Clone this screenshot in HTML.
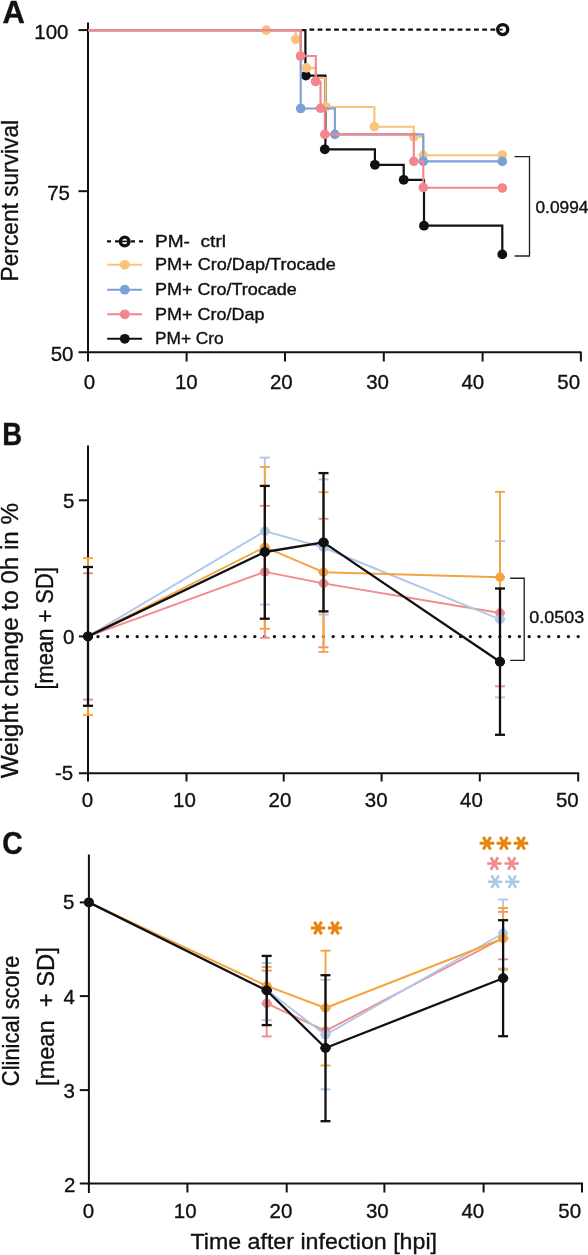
<!DOCTYPE html>
<html><head><meta charset="utf-8"><style>
html,body{margin:0;padding:0;background:#fff;width:588px;height:1255px;overflow:hidden;}
svg{display:block;font-family:"Liberation Sans", sans-serif;will-change:transform;}
text{stroke:#111;stroke-width:0.35px;}
</style></head><body>
<svg width="588" height="1255" viewBox="0 0 588 1255">
<text x="2.5" y="22.6" font-size="31" font-weight="bold" fill="#111" text-anchor="start" >A</text>
<text x="2.2" y="445" font-size="31" font-weight="bold" fill="#111" text-anchor="start" textLength="19.9" lengthAdjust="spacingAndGlyphs" >B</text>
<text x="2.2" y="854" font-size="31" font-weight="bold" fill="#111" text-anchor="start" textLength="20.5" lengthAdjust="spacingAndGlyphs" >C</text>
<line x1="88" y1="22.6" x2="88" y2="361.5" stroke="#111" stroke-width="2" />
<line x1="78.5" y1="352.2" x2="581.5" y2="352.2" stroke="#111" stroke-width="2" />
<line x1="78.5" y1="30.1" x2="88" y2="30.1" stroke="#111" stroke-width="2" />
<line x1="78.5" y1="191.2" x2="88" y2="191.2" stroke="#111" stroke-width="2" />
<line x1="186.6" y1="352.2" x2="186.6" y2="361.5" stroke="#111" stroke-width="2" />
<line x1="285" y1="352.2" x2="285" y2="361.5" stroke="#111" stroke-width="2" />
<line x1="383.8" y1="352.2" x2="383.8" y2="361.5" stroke="#111" stroke-width="2" />
<line x1="482.6" y1="352.2" x2="482.6" y2="361.5" stroke="#111" stroke-width="2" />
<line x1="580.9" y1="352.2" x2="580.9" y2="361.5" stroke="#111" stroke-width="2" />
<text x="68.5" y="38.6" font-size="21.0" font-weight="normal" fill="#111" text-anchor="end" textLength="34.19" lengthAdjust="spacingAndGlyphs" >100</text>
<text x="70" y="200" font-size="21.0" font-weight="normal" fill="#111" text-anchor="end" textLength="22.8" lengthAdjust="spacingAndGlyphs" >75</text>
<text x="73.5" y="361" font-size="21.0" font-weight="normal" fill="#111" text-anchor="end" textLength="22.8" lengthAdjust="spacingAndGlyphs" >50</text>
<text x="89.4" y="389.3" font-size="21.0" font-weight="normal" fill="#111" text-anchor="middle" textLength="11.4" lengthAdjust="spacingAndGlyphs" >0</text>
<text x="186.3" y="389.3" font-size="21.0" font-weight="normal" fill="#111" text-anchor="middle" textLength="22.8" lengthAdjust="spacingAndGlyphs" >10</text>
<text x="281.3" y="389.3" font-size="21.0" font-weight="normal" fill="#111" text-anchor="middle" textLength="22.8" lengthAdjust="spacingAndGlyphs" >20</text>
<text x="377.6" y="389.3" font-size="21.0" font-weight="normal" fill="#111" text-anchor="middle" textLength="22.8" lengthAdjust="spacingAndGlyphs" >30</text>
<text x="472.8" y="389.3" font-size="21.0" font-weight="normal" fill="#111" text-anchor="middle" textLength="22.8" lengthAdjust="spacingAndGlyphs" >40</text>
<text x="568.7" y="389.3" font-size="21.0" font-weight="normal" fill="#111" text-anchor="middle" textLength="22.8" lengthAdjust="spacingAndGlyphs" >50</text>
<text x="18.0" y="281.4" font-size="24" font-weight="normal" fill="#111" text-anchor="start" textLength="161.5" lengthAdjust="spacingAndGlyphs" transform="rotate(-90 18.0 281.4)" >Percent survival</text>
<path d="M88,30.1 H305.4 V75.6 H325.4 V149.3 H374.9 V164.8 H403.7 V179.8 H424 V225.7 H502.3 V254.4" fill="none" stroke="#111" stroke-width="2.2" />
<circle cx="305.9" cy="75.6" r="4.9" fill="#111"/>
<circle cx="324.8" cy="149.3" r="4.9" fill="#111"/>
<circle cx="374.9" cy="164.8" r="4.9" fill="#111"/>
<circle cx="403.7" cy="179.8" r="4.9" fill="#111"/>
<circle cx="424" cy="225.7" r="4.9" fill="#111"/>
<circle cx="502.3" cy="254.4" r="4.9" fill="#111"/>
<path d="M309.4,29.6 H502.5" fill="none" stroke="#111" stroke-width="2.3" stroke-dasharray="4.8 3.43"/>
<circle cx="502.7" cy="29.6" r="5" fill="#fff" stroke="#111" stroke-width="3.4"/>
<line x1="499.5" y1="29.6" x2="502.7" y2="29.6" stroke="#111" stroke-width="1.8" />
<path d="M88,30.1 H295.8 V39.3 H300.7 V67.9 H315.8 V78 H325.4 V107 H374.4 V126.7 H413.8 V136.8 H423.3 V155.3 H502.3" fill="none" stroke="#FAC37A" stroke-width="2.1" />
<circle cx="266.2" cy="30.1" r="4.8" fill="#FAC37A"/>
<circle cx="295.6" cy="39.3" r="4.8" fill="#FAC37A"/>
<circle cx="306.5" cy="67.9" r="4.8" fill="#FAC37A"/>
<circle cx="326" cy="106.7" r="4.8" fill="#FAC37A"/>
<circle cx="374.4" cy="126.7" r="4.8" fill="#FAC37A"/>
<circle cx="413.8" cy="136.8" r="4.8" fill="#FAC37A"/>
<circle cx="423.3" cy="155.3" r="4.8" fill="#FAC37A"/>
<circle cx="502.3" cy="155" r="4.8" fill="#FAC37A"/>
<path d="M88,30.1 H300.7 V108.5 H334.9 V134.4 H423.3 V161.4 H502.3" fill="none" stroke="#7AA0DA" stroke-width="2.1" />
<circle cx="300.7" cy="108.5" r="4.8" fill="#7AA0DA"/>
<circle cx="334.9" cy="134.4" r="4.8" fill="#7AA0DA"/>
<circle cx="423.3" cy="161.4" r="4.8" fill="#7AA0DA"/>
<circle cx="502.3" cy="161.4" r="4.8" fill="#7AA0DA"/>
<path d="M88,30.1 H300.7 V56 H315.8 V81.5 H320.5 V108.3 H324.8 V134.4 H413.8 V161.3 H423.3 V187.7 H502.3" fill="none" stroke="#F3858B" stroke-width="2.1" />
<circle cx="300.5" cy="56" r="4.8" fill="#F3858B"/>
<circle cx="315.6" cy="81.5" r="4.8" fill="#F3858B"/>
<circle cx="320.5" cy="108.3" r="4.8" fill="#F3858B"/>
<circle cx="324.8" cy="134.4" r="4.8" fill="#F3858B"/>
<circle cx="413.8" cy="161.3" r="4.8" fill="#F3858B"/>
<circle cx="423.3" cy="187.5" r="4.8" fill="#F3858B"/>
<circle cx="502.3" cy="188" r="4.8" fill="#F3858B"/>
<path d="M514.5,156.6 H529.5 V256 H514.5" fill="none" stroke="#222" stroke-width="1.35" />
<text x="535.5" y="212.9" font-size="17.3" font-weight="normal" fill="#111" text-anchor="start" >0.0994</text>
<path d="M107,241.4 H143" fill="none" stroke="#111" stroke-width="2.3" stroke-dasharray="4 4"/>
<circle cx="124.7" cy="241.4" r="4.3" fill="#fff" stroke="#111" stroke-width="3.4"/>
<line x1="122" y1="241.4" x2="128" y2="241.4" stroke="#111" stroke-width="1.6" />
<line x1="107.2" y1="264.8" x2="142.1" y2="264.8" stroke="#FAC37A" stroke-width="2.0" />
<circle cx="124.8" cy="264.8" r="4.9" fill="#FAC37A"/>
<line x1="107.2" y1="289.7" x2="142.1" y2="289.7" stroke="#7AA0DA" stroke-width="2.0" />
<circle cx="124.8" cy="289.7" r="4.9" fill="#7AA0DA"/>
<line x1="107.2" y1="314.3" x2="142.1" y2="314.3" stroke="#F3858B" stroke-width="2.0" />
<circle cx="124.8" cy="314.3" r="4.9" fill="#F3858B"/>
<line x1="107.2" y1="338.8" x2="142.1" y2="338.8" stroke="#111" stroke-width="2.0" />
<circle cx="124.8" cy="338.8" r="4.9" fill="#111"/>
<text x="155" y="247" font-size="15.6" font-weight="normal" fill="#111" text-anchor="start" textLength="71" lengthAdjust="spacingAndGlyphs" >PM-&#160; ctrl</text>
<text x="155" y="270.1" font-size="15.6" font-weight="normal" fill="#111" text-anchor="start" textLength="180.7" lengthAdjust="spacingAndGlyphs" >PM+ Cro/Dap/Trocade</text>
<text x="155" y="295" font-size="15.6" font-weight="normal" fill="#111" text-anchor="start" textLength="141.7" lengthAdjust="spacingAndGlyphs" >PM+ Cro/Trocade</text>
<text x="155" y="320.4" font-size="15.6" font-weight="normal" fill="#111" text-anchor="start" textLength="109.4" lengthAdjust="spacingAndGlyphs" >PM+ Cro/Dap</text>
<text x="155" y="343.9" font-size="15.6" font-weight="normal" fill="#111" text-anchor="start" textLength="68.7" lengthAdjust="spacingAndGlyphs" >PM+ Cro</text>
<line x1="88" y1="445.4" x2="88" y2="781.5" stroke="#111" stroke-width="2" />
<line x1="78.9" y1="773.2" x2="579.2" y2="773.2" stroke="#111" stroke-width="2" />
<line x1="78.9" y1="500.3" x2="88" y2="500.3" stroke="#111" stroke-width="2" />
<line x1="78.9" y1="636.4" x2="88" y2="636.4" stroke="#111" stroke-width="2" />
<line x1="186.5" y1="773.2" x2="186.5" y2="781.5" stroke="#111" stroke-width="2" />
<line x1="283.7" y1="773.2" x2="283.7" y2="781.5" stroke="#111" stroke-width="2" />
<line x1="381.6" y1="773.2" x2="381.6" y2="781.5" stroke="#111" stroke-width="2" />
<line x1="479.8" y1="773.2" x2="479.8" y2="781.5" stroke="#111" stroke-width="2" />
<line x1="578.2" y1="773.2" x2="578.2" y2="781.5" stroke="#111" stroke-width="2" />
<text x="74.3" y="507.9" font-size="21.0" font-weight="normal" fill="#111" text-anchor="end" textLength="11.4" lengthAdjust="spacingAndGlyphs" >5</text>
<text x="74.3" y="643.6" font-size="21.0" font-weight="normal" fill="#111" text-anchor="end" textLength="11.4" lengthAdjust="spacingAndGlyphs" >0</text>
<text x="73.2" y="780.1" font-size="21.0" font-weight="normal" fill="#111" text-anchor="end" textLength="18.22" lengthAdjust="spacingAndGlyphs" >-5</text>
<text x="87.5" y="807.1" font-size="21.0" font-weight="normal" fill="#111" text-anchor="middle" textLength="11.4" lengthAdjust="spacingAndGlyphs" >0</text>
<text x="184.5" y="807.1" font-size="21.0" font-weight="normal" fill="#111" text-anchor="middle" textLength="22.8" lengthAdjust="spacingAndGlyphs" >10</text>
<text x="280" y="807.1" font-size="21.0" font-weight="normal" fill="#111" text-anchor="middle" textLength="22.8" lengthAdjust="spacingAndGlyphs" >20</text>
<text x="376.2" y="807.1" font-size="21.0" font-weight="normal" fill="#111" text-anchor="middle" textLength="22.8" lengthAdjust="spacingAndGlyphs" >30</text>
<text x="471.5" y="807.1" font-size="21.0" font-weight="normal" fill="#111" text-anchor="middle" textLength="22.8" lengthAdjust="spacingAndGlyphs" >40</text>
<text x="567.3" y="807.1" font-size="21.0" font-weight="normal" fill="#111" text-anchor="middle" textLength="22.8" lengthAdjust="spacingAndGlyphs" >50</text>
<text x="17.9" y="778.3" font-size="23.5" font-weight="normal" fill="#111" text-anchor="start" textLength="275.4" lengthAdjust="spacingAndGlyphs" transform="rotate(-90 17.9 778.3)" >Weight change to 0h in %</text>
<text x="52.6" y="689.6" font-size="23.3" font-weight="normal" fill="#111" text-anchor="start" textLength="122.5" lengthAdjust="spacingAndGlyphs" transform="rotate(-90 52.6 689.6)" >[mean + SD]</text>
<path d="M98,636.6 H583" fill="none" stroke="#111" stroke-width="3.4" stroke-dasharray="0 9.8" stroke-linecap="round"/>
<line x1="88" y1="573.2" x2="88" y2="636.4" stroke="#F08A8C" stroke-width="1.9" />
<line x1="83.0" y1="573.2" x2="93.0" y2="573.2" stroke="#F08A8C" stroke-width="1.9" />
<line x1="83.0" y1="636.4" x2="93.0" y2="636.4" stroke="#F08A8C" stroke-width="1.9" />
<line x1="88" y1="636.4" x2="88" y2="699.6" stroke="#F08A8C" stroke-width="1.9" />
<line x1="83.0" y1="636.4" x2="93.0" y2="636.4" stroke="#F08A8C" stroke-width="1.9" />
<line x1="83.0" y1="699.6" x2="93.0" y2="699.6" stroke="#F08A8C" stroke-width="1.9" />
<line x1="264.8" y1="505.8" x2="264.8" y2="571.9" stroke="#F08A8C" stroke-width="1.9" />
<line x1="259.8" y1="505.8" x2="269.8" y2="505.8" stroke="#F08A8C" stroke-width="1.9" />
<line x1="259.8" y1="571.9" x2="269.8" y2="571.9" stroke="#F08A8C" stroke-width="1.9" />
<line x1="264.8" y1="571.9" x2="264.8" y2="637.8" stroke="#F08A8C" stroke-width="1.9" />
<line x1="259.8" y1="571.9" x2="269.8" y2="571.9" stroke="#F08A8C" stroke-width="1.9" />
<line x1="259.8" y1="637.8" x2="269.8" y2="637.8" stroke="#F08A8C" stroke-width="1.9" />
<line x1="323.5" y1="518.8" x2="323.5" y2="583.4" stroke="#F08A8C" stroke-width="1.9" />
<line x1="318.5" y1="518.8" x2="328.5" y2="518.8" stroke="#F08A8C" stroke-width="1.9" />
<line x1="318.5" y1="583.4" x2="328.5" y2="583.4" stroke="#F08A8C" stroke-width="1.9" />
<line x1="323.5" y1="583.4" x2="323.5" y2="647.3" stroke="#F08A8C" stroke-width="1.9" />
<line x1="318.5" y1="583.4" x2="328.5" y2="583.4" stroke="#F08A8C" stroke-width="1.9" />
<line x1="318.5" y1="647.3" x2="328.5" y2="647.3" stroke="#F08A8C" stroke-width="1.9" />
<line x1="500" y1="613.0" x2="500" y2="686.3" stroke="#F08A8C" stroke-width="1.9" />
<line x1="495.0" y1="613.0" x2="505.0" y2="613.0" stroke="#F08A8C" stroke-width="1.9" />
<line x1="495.0" y1="686.3" x2="505.0" y2="686.3" stroke="#F08A8C" stroke-width="1.9" />
<polyline points="88,636.4 264.8,571.9 323.5,583.4 500,613.0" fill="none" stroke="#F08A8C" stroke-width="1.9" stroke-linejoin="round"/>
<circle cx="88" cy="636.4" r="4.7" fill="#F08A8C"/>
<circle cx="264.8" cy="571.9" r="4.7" fill="#F08A8C"/>
<circle cx="323.5" cy="583.4" r="4.7" fill="#F08A8C"/>
<circle cx="500" cy="613.0" r="4.7" fill="#F08A8C"/>
<line x1="264.8" y1="457.6" x2="264.8" y2="531.1" stroke="#AEC8EB" stroke-width="1.9" />
<line x1="259.8" y1="457.6" x2="269.8" y2="457.6" stroke="#AEC8EB" stroke-width="1.9" />
<line x1="259.8" y1="531.1" x2="269.8" y2="531.1" stroke="#AEC8EB" stroke-width="1.9" />
<line x1="264.8" y1="531.1" x2="264.8" y2="604.6" stroke="#AEC8EB" stroke-width="1.9" />
<line x1="259.8" y1="531.1" x2="269.8" y2="531.1" stroke="#AEC8EB" stroke-width="1.9" />
<line x1="259.8" y1="604.6" x2="269.8" y2="604.6" stroke="#AEC8EB" stroke-width="1.9" />
<line x1="323.5" y1="479.4" x2="323.5" y2="547.5" stroke="#AEC8EB" stroke-width="1.9" />
<line x1="318.5" y1="479.4" x2="328.5" y2="479.4" stroke="#AEC8EB" stroke-width="1.9" />
<line x1="318.5" y1="547.5" x2="328.5" y2="547.5" stroke="#AEC8EB" stroke-width="1.9" />
<line x1="323.5" y1="547.5" x2="323.5" y2="614.6" stroke="#AEC8EB" stroke-width="1.9" />
<line x1="318.5" y1="547.5" x2="328.5" y2="547.5" stroke="#AEC8EB" stroke-width="1.9" />
<line x1="318.5" y1="614.6" x2="328.5" y2="614.6" stroke="#AEC8EB" stroke-width="1.9" />
<line x1="500" y1="541.1" x2="500" y2="619.4" stroke="#AEC8EB" stroke-width="1.9" />
<line x1="495.0" y1="541.1" x2="505.0" y2="541.1" stroke="#AEC8EB" stroke-width="1.9" />
<line x1="495.0" y1="619.4" x2="505.0" y2="619.4" stroke="#AEC8EB" stroke-width="1.9" />
<line x1="500" y1="619.4" x2="500" y2="697.4" stroke="#AEC8EB" stroke-width="1.9" />
<line x1="495.0" y1="619.4" x2="505.0" y2="619.4" stroke="#AEC8EB" stroke-width="1.9" />
<line x1="495.0" y1="697.4" x2="505.0" y2="697.4" stroke="#AEC8EB" stroke-width="1.9" />
<polyline points="88,636.4 264.8,531.1 323.5,547.5 500,619.4" fill="none" stroke="#AEC8EB" stroke-width="1.9" stroke-linejoin="round"/>
<circle cx="88" cy="636.4" r="4.7" fill="#AEC8EB"/>
<circle cx="264.8" cy="531.1" r="4.7" fill="#AEC8EB"/>
<circle cx="323.5" cy="547.5" r="4.7" fill="#AEC8EB"/>
<circle cx="500" cy="619.4" r="4.7" fill="#AEC8EB"/>
<line x1="88" y1="558.2" x2="88" y2="636.4" stroke="#F3A43C" stroke-width="1.9" />
<line x1="83.0" y1="558.2" x2="93.0" y2="558.2" stroke="#F3A43C" stroke-width="1.9" />
<line x1="83.0" y1="636.4" x2="93.0" y2="636.4" stroke="#F3A43C" stroke-width="1.9" />
<line x1="88" y1="636.4" x2="88" y2="715.1" stroke="#F3A43C" stroke-width="1.9" />
<line x1="83.0" y1="636.4" x2="93.0" y2="636.4" stroke="#F3A43C" stroke-width="1.9" />
<line x1="83.0" y1="715.1" x2="93.0" y2="715.1" stroke="#F3A43C" stroke-width="1.9" />
<line x1="264.8" y1="466.9" x2="264.8" y2="547.1" stroke="#F3A43C" stroke-width="1.9" />
<line x1="259.8" y1="466.9" x2="269.8" y2="466.9" stroke="#F3A43C" stroke-width="1.9" />
<line x1="259.8" y1="547.1" x2="269.8" y2="547.1" stroke="#F3A43C" stroke-width="1.9" />
<line x1="264.8" y1="547.1" x2="264.8" y2="628.8" stroke="#F3A43C" stroke-width="1.9" />
<line x1="259.8" y1="547.1" x2="269.8" y2="547.1" stroke="#F3A43C" stroke-width="1.9" />
<line x1="259.8" y1="628.8" x2="269.8" y2="628.8" stroke="#F3A43C" stroke-width="1.9" />
<line x1="323.5" y1="492.2" x2="323.5" y2="572.2" stroke="#F3A43C" stroke-width="1.9" />
<line x1="318.5" y1="492.2" x2="328.5" y2="492.2" stroke="#F3A43C" stroke-width="1.9" />
<line x1="318.5" y1="572.2" x2="328.5" y2="572.2" stroke="#F3A43C" stroke-width="1.9" />
<line x1="323.5" y1="572.2" x2="323.5" y2="651.9" stroke="#F3A43C" stroke-width="1.9" />
<line x1="318.5" y1="572.2" x2="328.5" y2="572.2" stroke="#F3A43C" stroke-width="1.9" />
<line x1="318.5" y1="651.9" x2="328.5" y2="651.9" stroke="#F3A43C" stroke-width="1.9" />
<line x1="500" y1="491.8" x2="500" y2="577.3" stroke="#F3A43C" stroke-width="1.9" />
<line x1="495.0" y1="491.8" x2="505.0" y2="491.8" stroke="#F3A43C" stroke-width="1.9" />
<line x1="495.0" y1="577.3" x2="505.0" y2="577.3" stroke="#F3A43C" stroke-width="1.9" />
<line x1="500" y1="577.3" x2="500" y2="662.8" stroke="#F3A43C" stroke-width="1.9" />
<line x1="495.0" y1="577.3" x2="505.0" y2="577.3" stroke="#F3A43C" stroke-width="1.9" />
<line x1="495.0" y1="662.8" x2="505.0" y2="662.8" stroke="#F3A43C" stroke-width="1.9" />
<polyline points="88,636.4 264.8,547.1 323.5,572.2 500,577.3" fill="none" stroke="#F3A43C" stroke-width="1.9" stroke-linejoin="round"/>
<circle cx="88" cy="636.4" r="4.7" fill="#F3A43C"/>
<circle cx="264.8" cy="547.1" r="4.7" fill="#F3A43C"/>
<circle cx="323.5" cy="572.2" r="4.7" fill="#F3A43C"/>
<circle cx="500" cy="577.3" r="4.7" fill="#F3A43C"/>
<line x1="88" y1="567" x2="88" y2="636.4" stroke="#111" stroke-width="2.3" />
<line x1="83.0" y1="567" x2="93.0" y2="567" stroke="#111" stroke-width="2.3" />
<line x1="83.0" y1="636.4" x2="93.0" y2="636.4" stroke="#111" stroke-width="2.3" />
<line x1="88" y1="636.4" x2="88" y2="705.8" stroke="#111" stroke-width="2.3" />
<line x1="83.0" y1="636.4" x2="93.0" y2="636.4" stroke="#111" stroke-width="2.3" />
<line x1="83.0" y1="705.8" x2="93.0" y2="705.8" stroke="#111" stroke-width="2.3" />
<line x1="264.8" y1="485.9" x2="264.8" y2="552.0" stroke="#111" stroke-width="2.3" />
<line x1="259.8" y1="485.9" x2="269.8" y2="485.9" stroke="#111" stroke-width="2.3" />
<line x1="259.8" y1="552.0" x2="269.8" y2="552.0" stroke="#111" stroke-width="2.3" />
<line x1="264.8" y1="552.0" x2="264.8" y2="618.7" stroke="#111" stroke-width="2.3" />
<line x1="259.8" y1="552.0" x2="269.8" y2="552.0" stroke="#111" stroke-width="2.3" />
<line x1="259.8" y1="618.7" x2="269.8" y2="618.7" stroke="#111" stroke-width="2.3" />
<line x1="323.5" y1="473.1" x2="323.5" y2="542.4" stroke="#111" stroke-width="2.3" />
<line x1="318.5" y1="473.1" x2="328.5" y2="473.1" stroke="#111" stroke-width="2.3" />
<line x1="318.5" y1="542.4" x2="328.5" y2="542.4" stroke="#111" stroke-width="2.3" />
<line x1="323.5" y1="542.4" x2="323.5" y2="611.4" stroke="#111" stroke-width="2.3" />
<line x1="318.5" y1="542.4" x2="328.5" y2="542.4" stroke="#111" stroke-width="2.3" />
<line x1="318.5" y1="611.4" x2="328.5" y2="611.4" stroke="#111" stroke-width="2.3" />
<line x1="500" y1="588.5" x2="500" y2="661.8" stroke="#111" stroke-width="2.3" />
<line x1="495.0" y1="588.5" x2="505.0" y2="588.5" stroke="#111" stroke-width="2.3" />
<line x1="495.0" y1="661.8" x2="505.0" y2="661.8" stroke="#111" stroke-width="2.3" />
<line x1="500" y1="661.8" x2="500" y2="734.8" stroke="#111" stroke-width="2.3" />
<line x1="495.0" y1="661.8" x2="505.0" y2="661.8" stroke="#111" stroke-width="2.3" />
<line x1="495.0" y1="734.8" x2="505.0" y2="734.8" stroke="#111" stroke-width="2.3" />
<polyline points="88,636.4 264.8,552.0 323.5,542.4 500,661.8" fill="none" stroke="#111" stroke-width="2.3" stroke-linejoin="round"/>
<circle cx="88" cy="636.4" r="5.0" fill="#111"/>
<circle cx="264.8" cy="552.0" r="5.0" fill="#111"/>
<circle cx="323.5" cy="542.4" r="5.0" fill="#111"/>
<circle cx="500" cy="661.8" r="5.0" fill="#111"/>
<path d="M510.2,578.2 H524.2 V660.4 H510.2" fill="none" stroke="#222" stroke-width="1.35" />
<text x="529.3" y="622.8" font-size="17.3" font-weight="normal" fill="#111" text-anchor="start" textLength="55" lengthAdjust="spacingAndGlyphs" >0.0503</text>
<line x1="88.9" y1="854.4" x2="88.9" y2="1193" stroke="#111" stroke-width="2" />
<line x1="79.8" y1="1183.5" x2="583" y2="1183.5" stroke="#111" stroke-width="2" />
<line x1="79.8" y1="902.4" x2="88.9" y2="902.4" stroke="#111" stroke-width="2" />
<line x1="79.8" y1="996.1" x2="88.9" y2="996.1" stroke="#111" stroke-width="2" />
<line x1="79.8" y1="1090.1" x2="88.9" y2="1090.1" stroke="#111" stroke-width="2" />
<line x1="187.4" y1="1183.5" x2="187.4" y2="1192.5" stroke="#111" stroke-width="2" />
<line x1="286.7" y1="1183.5" x2="286.7" y2="1192.5" stroke="#111" stroke-width="2" />
<line x1="384.4" y1="1183.5" x2="384.4" y2="1192.5" stroke="#111" stroke-width="2" />
<line x1="483.6" y1="1183.5" x2="483.6" y2="1192.5" stroke="#111" stroke-width="2" />
<line x1="582" y1="1183.5" x2="582" y2="1192.5" stroke="#111" stroke-width="2" />
<text x="74.5" y="909.4" font-size="21.0" font-weight="normal" fill="#111" text-anchor="end" textLength="11.4" lengthAdjust="spacingAndGlyphs" >5</text>
<text x="75" y="1003.5" font-size="21.0" font-weight="normal" fill="#111" text-anchor="end" textLength="11.4" lengthAdjust="spacingAndGlyphs" >4</text>
<text x="75" y="1097.5" font-size="21.0" font-weight="normal" fill="#111" text-anchor="end" textLength="11.4" lengthAdjust="spacingAndGlyphs" >3</text>
<text x="75.3" y="1191.5" font-size="21.0" font-weight="normal" fill="#111" text-anchor="end" textLength="11.4" lengthAdjust="spacingAndGlyphs" >2</text>
<text x="88.5" y="1218" font-size="21.0" font-weight="normal" fill="#111" text-anchor="middle" textLength="11.4" lengthAdjust="spacingAndGlyphs" >0</text>
<text x="185.2" y="1218" font-size="21.0" font-weight="normal" fill="#111" text-anchor="middle" textLength="22.8" lengthAdjust="spacingAndGlyphs" >10</text>
<text x="281" y="1218" font-size="21.0" font-weight="normal" fill="#111" text-anchor="middle" textLength="22.8" lengthAdjust="spacingAndGlyphs" >20</text>
<text x="377.3" y="1218" font-size="21.0" font-weight="normal" fill="#111" text-anchor="middle" textLength="22.8" lengthAdjust="spacingAndGlyphs" >30</text>
<text x="472.8" y="1218" font-size="21.0" font-weight="normal" fill="#111" text-anchor="middle" textLength="22.8" lengthAdjust="spacingAndGlyphs" >40</text>
<text x="569.7" y="1218" font-size="21.0" font-weight="normal" fill="#111" text-anchor="middle" textLength="22.8" lengthAdjust="spacingAndGlyphs" >50</text>
<text x="18.8" y="1086.2" font-size="24" font-weight="normal" fill="#111" text-anchor="start" textLength="130.5" lengthAdjust="spacingAndGlyphs" transform="rotate(-90 18.8 1086.2)" >Clinical score</text>
<text x="53.6" y="1086.2" font-size="23.3" font-weight="normal" fill="#111" text-anchor="start" textLength="139" lengthAdjust="spacingAndGlyphs" transform="rotate(-90 53.6 1086.2)" >[mean&#160; + SD]</text>
<text x="190.5" y="1248.8" font-size="21.7" font-weight="normal" fill="#111" text-anchor="start" textLength="246.5" lengthAdjust="spacingAndGlyphs" >Time after infection [hpi]</text>
<line x1="266.7" y1="970.6" x2="266.7" y2="1003.4" stroke="#F08A8C" stroke-width="1.9" />
<line x1="261.7" y1="970.6" x2="271.7" y2="970.6" stroke="#F08A8C" stroke-width="1.9" />
<line x1="261.7" y1="1003.4" x2="271.7" y2="1003.4" stroke="#F08A8C" stroke-width="1.9" />
<line x1="266.7" y1="1003.4" x2="266.7" y2="1036.4" stroke="#F08A8C" stroke-width="1.9" />
<line x1="261.7" y1="1003.4" x2="271.7" y2="1003.4" stroke="#F08A8C" stroke-width="1.9" />
<line x1="261.7" y1="1036.4" x2="271.7" y2="1036.4" stroke="#F08A8C" stroke-width="1.9" />
<line x1="503.1" y1="911.8" x2="503.1" y2="938.0" stroke="#F08A8C" stroke-width="1.9" />
<line x1="498.1" y1="911.8" x2="508.1" y2="911.8" stroke="#F08A8C" stroke-width="1.9" />
<line x1="498.1" y1="938.0" x2="508.1" y2="938.0" stroke="#F08A8C" stroke-width="1.9" />
<line x1="503.1" y1="938.0" x2="503.1" y2="959.3" stroke="#F08A8C" stroke-width="1.9" />
<line x1="498.1" y1="938.0" x2="508.1" y2="938.0" stroke="#F08A8C" stroke-width="1.9" />
<line x1="498.1" y1="959.3" x2="508.1" y2="959.3" stroke="#F08A8C" stroke-width="1.9" />
<polyline points="266.7,1003.4 325.5,1030.9 503.1,938.0" fill="none" stroke="#F08A8C" stroke-width="1.9" stroke-linejoin="round"/>
<circle cx="266.7" cy="1003.4" r="4.7" fill="#F08A8C"/>
<circle cx="325.5" cy="1030.9" r="4.7" fill="#F08A8C"/>
<circle cx="503.1" cy="938.0" r="4.7" fill="#F08A8C"/>
<line x1="266.7" y1="963" x2="266.7" y2="990.0" stroke="#AEC8EB" stroke-width="1.9" />
<line x1="261.7" y1="963" x2="271.7" y2="963" stroke="#AEC8EB" stroke-width="1.9" />
<line x1="261.7" y1="990.0" x2="271.7" y2="990.0" stroke="#AEC8EB" stroke-width="1.9" />
<line x1="266.7" y1="990.0" x2="266.7" y2="1020.2" stroke="#AEC8EB" stroke-width="1.9" />
<line x1="261.7" y1="990.0" x2="271.7" y2="990.0" stroke="#AEC8EB" stroke-width="1.9" />
<line x1="261.7" y1="1020.2" x2="271.7" y2="1020.2" stroke="#AEC8EB" stroke-width="1.9" />
<line x1="325.5" y1="979.8" x2="325.5" y2="1034.9" stroke="#AEC8EB" stroke-width="1.9" />
<line x1="320.5" y1="979.8" x2="330.5" y2="979.8" stroke="#AEC8EB" stroke-width="1.9" />
<line x1="320.5" y1="1034.9" x2="330.5" y2="1034.9" stroke="#AEC8EB" stroke-width="1.9" />
<line x1="325.5" y1="1034.9" x2="325.5" y2="1089.4" stroke="#AEC8EB" stroke-width="1.9" />
<line x1="320.5" y1="1034.9" x2="330.5" y2="1034.9" stroke="#AEC8EB" stroke-width="1.9" />
<line x1="320.5" y1="1089.4" x2="330.5" y2="1089.4" stroke="#AEC8EB" stroke-width="1.9" />
<line x1="503.1" y1="899.5" x2="503.1" y2="933.2" stroke="#AEC8EB" stroke-width="1.9" />
<line x1="498.1" y1="899.5" x2="508.1" y2="899.5" stroke="#AEC8EB" stroke-width="1.9" />
<line x1="498.1" y1="933.2" x2="508.1" y2="933.2" stroke="#AEC8EB" stroke-width="1.9" />
<line x1="503.1" y1="933.2" x2="503.1" y2="968.6" stroke="#AEC8EB" stroke-width="1.9" />
<line x1="498.1" y1="933.2" x2="508.1" y2="933.2" stroke="#AEC8EB" stroke-width="1.9" />
<line x1="498.1" y1="968.6" x2="508.1" y2="968.6" stroke="#AEC8EB" stroke-width="1.9" />
<polyline points="266.7,990.0 325.5,1034.9 503.1,933.2" fill="none" stroke="#AEC8EB" stroke-width="1.9" stroke-linejoin="round"/>
<circle cx="266.7" cy="990.0" r="4.7" fill="#AEC8EB"/>
<circle cx="325.5" cy="1034.9" r="4.7" fill="#AEC8EB"/>
<circle cx="503.1" cy="933.2" r="4.7" fill="#AEC8EB"/>
<line x1="266.7" y1="966.9" x2="266.7" y2="985.9" stroke="#F3A43C" stroke-width="1.9" />
<line x1="261.7" y1="966.9" x2="271.7" y2="966.9" stroke="#F3A43C" stroke-width="1.9" />
<line x1="261.7" y1="985.9" x2="271.7" y2="985.9" stroke="#F3A43C" stroke-width="1.9" />
<line x1="325.5" y1="950.7" x2="325.5" y2="1008.0" stroke="#F3A43C" stroke-width="1.9" />
<line x1="320.5" y1="950.7" x2="330.5" y2="950.7" stroke="#F3A43C" stroke-width="1.9" />
<line x1="320.5" y1="1008.0" x2="330.5" y2="1008.0" stroke="#F3A43C" stroke-width="1.9" />
<line x1="325.5" y1="1008.0" x2="325.5" y2="1065.5" stroke="#F3A43C" stroke-width="1.9" />
<line x1="320.5" y1="1008.0" x2="330.5" y2="1008.0" stroke="#F3A43C" stroke-width="1.9" />
<line x1="320.5" y1="1065.5" x2="330.5" y2="1065.5" stroke="#F3A43C" stroke-width="1.9" />
<line x1="503.1" y1="908" x2="503.1" y2="938.5" stroke="#F3A43C" stroke-width="1.9" />
<line x1="498.1" y1="908" x2="508.1" y2="908" stroke="#F3A43C" stroke-width="1.9" />
<line x1="498.1" y1="938.5" x2="508.1" y2="938.5" stroke="#F3A43C" stroke-width="1.9" />
<line x1="503.1" y1="938.5" x2="503.1" y2="969.7" stroke="#F3A43C" stroke-width="1.9" />
<line x1="498.1" y1="938.5" x2="508.1" y2="938.5" stroke="#F3A43C" stroke-width="1.9" />
<line x1="498.1" y1="969.7" x2="508.1" y2="969.7" stroke="#F3A43C" stroke-width="1.9" />
<polyline points="88.9,902.4 266.7,985.9 325.5,1008.0 503.1,938.5" fill="none" stroke="#F3A43C" stroke-width="1.9" stroke-linejoin="round"/>
<circle cx="88.9" cy="902.4" r="4.7" fill="#F3A43C"/>
<circle cx="266.7" cy="985.9" r="4.7" fill="#F3A43C"/>
<circle cx="325.5" cy="1008.0" r="4.7" fill="#F3A43C"/>
<circle cx="503.1" cy="938.5" r="4.7" fill="#F3A43C"/>
<line x1="266.7" y1="955.9" x2="266.7" y2="990.5" stroke="#111" stroke-width="2.3" />
<line x1="261.7" y1="955.9" x2="271.7" y2="955.9" stroke="#111" stroke-width="2.3" />
<line x1="261.7" y1="990.5" x2="271.7" y2="990.5" stroke="#111" stroke-width="2.3" />
<line x1="266.7" y1="990.5" x2="266.7" y2="1025.1" stroke="#111" stroke-width="2.3" />
<line x1="261.7" y1="990.5" x2="271.7" y2="990.5" stroke="#111" stroke-width="2.3" />
<line x1="261.7" y1="1025.1" x2="271.7" y2="1025.1" stroke="#111" stroke-width="2.3" />
<line x1="325.5" y1="975.2" x2="325.5" y2="1048.0" stroke="#111" stroke-width="2.3" />
<line x1="320.5" y1="975.2" x2="330.5" y2="975.2" stroke="#111" stroke-width="2.3" />
<line x1="320.5" y1="1048.0" x2="330.5" y2="1048.0" stroke="#111" stroke-width="2.3" />
<line x1="325.5" y1="1048.0" x2="325.5" y2="1121.2" stroke="#111" stroke-width="2.3" />
<line x1="320.5" y1="1048.0" x2="330.5" y2="1048.0" stroke="#111" stroke-width="2.3" />
<line x1="320.5" y1="1121.2" x2="330.5" y2="1121.2" stroke="#111" stroke-width="2.3" />
<line x1="503.1" y1="920.2" x2="503.1" y2="978.2" stroke="#111" stroke-width="2.3" />
<line x1="498.1" y1="920.2" x2="508.1" y2="920.2" stroke="#111" stroke-width="2.3" />
<line x1="498.1" y1="978.2" x2="508.1" y2="978.2" stroke="#111" stroke-width="2.3" />
<line x1="503.1" y1="978.2" x2="503.1" y2="1036.2" stroke="#111" stroke-width="2.3" />
<line x1="498.1" y1="978.2" x2="508.1" y2="978.2" stroke="#111" stroke-width="2.3" />
<line x1="498.1" y1="1036.2" x2="508.1" y2="1036.2" stroke="#111" stroke-width="2.3" />
<polyline points="88.9,902.4 266.7,990.5 325.5,1048.0 503.1,978.2" fill="none" stroke="#111" stroke-width="2.3" stroke-linejoin="round"/>
<circle cx="88.9" cy="902.4" r="5.0" fill="#111"/>
<circle cx="266.7" cy="990.5" r="5.0" fill="#111"/>
<circle cx="325.5" cy="1048.0" r="5.0" fill="#111"/>
<circle cx="503.1" cy="978.2" r="5.0" fill="#111"/>
<path d="M479.60,843.20 L494.20,843.20 M483.25,836.88 L490.55,849.52 M490.55,836.88 L483.25,849.52 " stroke="#E9840F" stroke-width="3" fill="none"/>
<path d="M496.60,843.20 L511.20,843.20 M500.25,836.88 L507.55,849.52 M507.55,836.88 L500.25,849.52 " stroke="#E9840F" stroke-width="3" fill="none"/>
<path d="M513.70,843.20 L528.30,843.20 M517.35,836.88 L524.65,849.52 M524.65,836.88 L517.35,849.52 " stroke="#E9840F" stroke-width="3" fill="none"/>
<path d="M487.20,863.50 L501.60,863.50 M490.80,857.26 L498.00,869.74 M498.00,857.26 L490.80,869.74 " stroke="#F08A8C" stroke-width="2.6" fill="none"/>
<path d="M504.50,863.50 L518.90,863.50 M508.10,857.26 L515.30,869.74 M515.30,857.26 L508.10,869.74 " stroke="#F08A8C" stroke-width="2.6" fill="none"/>
<path d="M488.00,881.70 L502.40,881.70 M491.60,875.46 L498.80,887.94 M498.80,875.46 L491.60,887.94 " stroke="#AEC8EB" stroke-width="2.6" fill="none"/>
<path d="M505.10,881.70 L519.50,881.70 M508.70,875.46 L515.90,887.94 M515.90,875.46 L508.70,887.94 " stroke="#AEC8EB" stroke-width="2.6" fill="none"/>
<path d="M310.80,928.00 L325.20,928.00 M314.40,921.76 L321.60,934.24 M321.60,921.76 L314.40,934.24 " stroke="#E9840F" stroke-width="3" fill="none"/>
<path d="M327.80,928.00 L342.20,928.00 M331.40,921.76 L338.60,934.24 M338.60,921.76 L331.40,934.24 " stroke="#E9840F" stroke-width="3" fill="none"/>
</svg>
</body></html>
